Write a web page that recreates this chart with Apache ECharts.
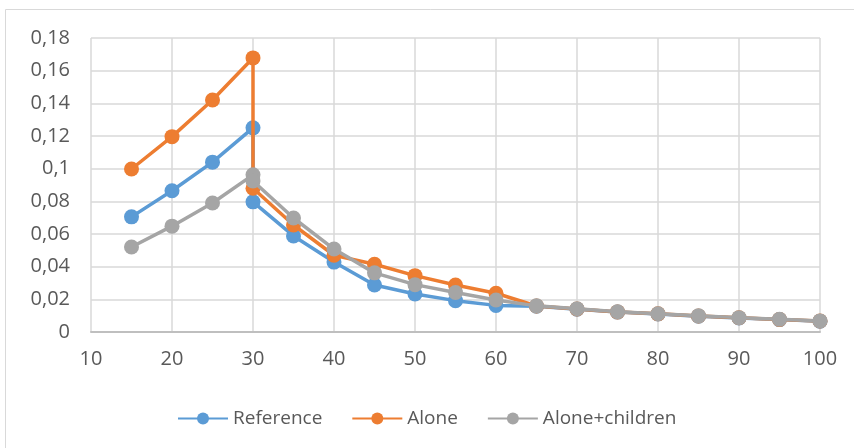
<!DOCTYPE html>
<html><head><meta charset="utf-8">
<script src="https://cdn.jsdelivr.net/npm/echarts@6/dist/echarts.min.js"></script>
<style>html,body{margin:0;padding:0;background:#fff}#c{width:854px;height:448px}</style>
</head><body><div id="c"></div>
<script>
const xValues = [15, 20, 25, 30, 30, 35, 40, 45, 50, 55, 60, 65, 70, 75, 80, 85, 90, 95, 100];
const referenceValues = [0.0705, 0.0865, 0.104, 0.125, 0.0797, 0.0588, 0.0428, 0.0288, 0.0233, 0.0192, 0.0163, 0.0158, 0.014, 0.0122, 0.011, 0.0097, 0.0086, 0.0076, 0.0066];
const aloneValues = [0.0998, 0.1196, 0.142, 0.1678, 0.088, 0.0655, 0.047, 0.0415, 0.0345, 0.0288, 0.0237, 0.0159, 0.0141, 0.0123, 0.0111, 0.0098, 0.0087, 0.0077, 0.0067];
const aloneChildrenValues = [0.052, 0.0648, 0.079, 0.0962, 0.0925, 0.0698, 0.0508, 0.0362, 0.029, 0.0242, 0.0196, 0.016, 0.0142, 0.0124, 0.0112, 0.0099, 0.0088, 0.0078, 0.0068];
const seriesNames = ['Reference', 'Alone', 'Alone+children'];
const colors = ['#5B9BD5', '#ED7D31', '#A5A5A5'];

const pair = vals => xValues.map((x, i) => [x, vals[i]]);
const font = '"Open Sans", Lato, sans-serif';
const chart = echarts.init(document.getElementById('c'));
chart.setOption({
  animation: false,
  color: colors,
  graphic: [{type: 'rect', shape: {x: 5.5, y: 9.5, width: 860, height: 450}, style: {fill: 'none', stroke: '#d9d9d9', lineWidth: 1}, z: -1}],
  grid: {left: 91, right: 34, top: 38, bottom: 116},
  legend: {
    top: 404, left: 172, itemWidth: 50, itemHeight: 15, itemGap: 29,
    textStyle: {fontFamily: font, fontSize: 19, color: '#595959'},
    data: seriesNames
  },
  xAxis: {
    type: 'value', min: 10, max: 100, interval: 10,
    axisLine: {show: true, lineStyle: {color: '#bfbfbf', width: 2}},
    axisTick: {show: false},
    splitLine: {show: true, lineStyle: {color: '#d9d9d9', width: 1.5}},
    axisLabel: {fontFamily: font, fontSize: 20, color: '#595959', margin: 17}
  },
  yAxis: {
    type: 'value', min: 0, max: 0.18, interval: 0.02,
    axisLine: {show: false}, axisTick: {show: false},
    splitLine: {lineStyle: {color: '#d9d9d9', width: 1.5}},
    axisLabel: {fontFamily: font, fontSize: 20, color: '#595959', margin: 21,
      formatter: v => String(+v.toFixed(2)).replace('.', ',')}
  },
  series: [referenceValues, aloneValues, aloneChildrenValues].map((vals, i) => ({
    name: seriesNames[i], type: 'line', data: pair(vals),
    symbol: 'circle', symbolSize: 15,
    lineStyle: {width: 3.5, color: colors[i]},
    itemStyle: {color: colors[i]},
    z: 2 + i
  }))
});
</script></body></html>
